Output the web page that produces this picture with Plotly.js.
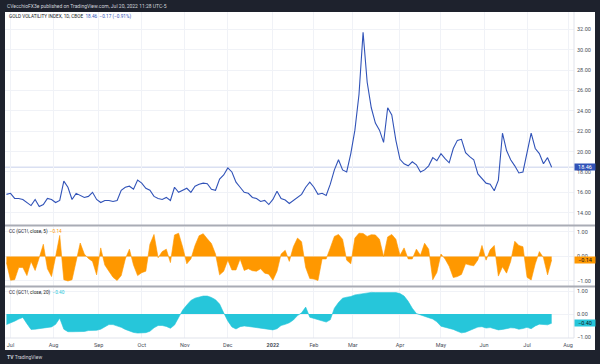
<!DOCTYPE html>
<html><head><meta charset="utf-8">
<script src="https://cdn.plot.ly/plotly-3.0.1.min.js"></script>
<style>html,body{margin:0;padding:0;background:#1e222d;}#chart{width:600px;height:364px;}</style>
</head><body><div id="chart"></div>
<script>
const dates = [
'2021-06-29','2021-07-01','2021-07-06','2021-07-08','2021-07-12','2021-07-14','2021-07-16','2021-07-20','2021-07-22','2021-07-26',
'2021-07-28','2021-07-30','2021-08-03','2021-08-05','2021-08-09','2021-08-11','2021-08-13','2021-08-17','2021-08-19','2021-08-23',
'2021-08-25','2021-08-27','2021-08-31','2021-09-02','2021-09-07','2021-09-09','2021-09-13','2021-09-15','2021-09-17','2021-09-21',
'2021-09-23','2021-09-27','2021-09-29','2021-10-01','2021-10-05','2021-10-07','2021-10-11','2021-10-13','2021-10-15','2021-10-19',
'2021-10-21','2021-10-25','2021-10-27','2021-10-29','2021-11-02','2021-11-04','2021-11-08','2021-11-10','2021-11-12','2021-11-16',
'2021-11-18','2021-11-22','2021-11-24','2021-11-29','2021-12-01','2021-12-03','2021-12-07','2021-12-09','2021-12-13','2021-12-15',
'2021-12-17','2021-12-21','2021-12-23','2021-12-28','2021-12-30','2022-01-03','2022-01-05','2022-01-07','2022-01-11','2022-01-13',
'2022-01-18','2022-01-20','2022-01-24','2022-01-26','2022-01-28','2022-02-01','2022-02-03','2022-02-07','2022-02-09','2022-02-11',
'2022-02-15','2022-02-17','2022-02-22','2022-02-24','2022-02-28','2022-03-02','2022-03-04','2022-03-08','2022-03-10','2022-03-14',
'2022-03-16','2022-03-18','2022-03-22','2022-03-24','2022-03-28','2022-03-30','2022-04-01','2022-04-05','2022-04-07','2022-04-11',
'2022-04-13','2022-04-18','2022-04-20','2022-04-22','2022-04-26','2022-04-28','2022-05-02','2022-05-04','2022-05-06','2022-05-10',
'2022-05-12','2022-05-16','2022-05-18','2022-05-20','2022-05-24','2022-05-26','2022-05-31','2022-06-02','2022-06-06','2022-06-08',
'2022-06-10','2022-06-14','2022-06-16','2022-06-21','2022-06-23','2022-06-27','2022-06-29','2022-07-01','2022-07-06','2022-07-08',
'2022-07-12','2022-07-14','2022-07-18','2022-07-20'];

const gvz = [
15.8,15.9,15.4,15.4,15.3,15.0,14.7,15.3,14.6,14.8,
15.4,15.3,15.0,15.2,17.1,16.5,15.3,15.9,15.7,15.5,
15.6,16.0,15.3,15.0,15.2,15.2,15.1,15.2,16.2,16.5,
16.6,16.3,17.2,16.9,16.4,16.2,15.6,15.4,15.3,15.5,
15.2,16.5,16.0,16.2,16.4,16.0,16.6,16.8,16.9,16.85,
16.3,16.2,17.3,17.7,18.4,18.0,17.0,16.5,16.0,15.9,
15.5,15.4,15.1,15.2,14.8,15.3,16.1,15.4,15.25,14.9,
15.2,15.5,15.8,16.5,17.0,16.5,15.8,15.9,15.7,16.8,
18.2,19.2,18.2,18.0,19.8,22.1,25.6,31.7,26.8,24.3,
22.8,22.1,20.9,24.3,23.6,21.1,19.24,18.8,18.6,19.0,
18.7,18.0,18.2,18.6,19.4,19.1,19.8,19.3,18.9,20.3,
21.1,21.2,19.9,19.5,19.2,17.8,17.3,16.9,16.8,16.15,
17.2,21.8,20.1,19.2,18.6,17.9,18.0,19.9,21.8,20.3,
19.8,18.8,19.4,18.46];

const cc5 = [
-0.25,-0.97,-0.95,-0.45,-0.45,-0.78,-0.2,-0.57,-0.05,0.5,
-0.5,-0.82,0.0,0.86,-0.95,-1.0,-0.95,-0.25,0.55,0.1,
-0.08,-0.2,-0.75,0.35,-0.35,-0.6,-0.85,-0.98,-0.78,-0.1,
0.3,-0.35,-0.78,-0.66,-0.6,0.5,0.9,-0.05,0.2,0.3,
-0.25,0.88,0.95,0.38,-0.3,-0.1,0.45,0.85,0.93,0.72,
0.53,0.1,-0.75,-0.6,-0.15,-0.55,-0.55,-0.1,-0.57,-0.5,
-0.58,-0.6,-0.5,-0.68,-0.72,-0.97,-0.6,0.1,0.25,-0.2,
0.4,0.75,0.6,-0.45,-0.9,-0.92,-0.98,-0.1,-0.1,0.35,
0.82,0.9,0.7,-0.15,-0.3,0.75,0.95,0.94,0.82,0.89,
0.88,0.7,0.0,0.8,0.9,0.7,0.05,0.35,-0.1,-0.1,
0.3,0.05,0.54,0.3,-0.95,-0.65,0.1,-0.1,-0.4,-0.86,
-0.82,-0.73,-0.3,-0.35,-0.38,-0.14,0.45,-0.15,0.27,0.45,
-0.8,-0.42,-0.68,-0.2,0.62,0.45,0.4,-0.85,-0.96,-0.3,
0.2,-0.05,-0.75,-0.14];

const cc20 = [
-0.46,-0.40,-0.31,-0.22,-0.15,-0.42,-0.67,-0.66,-0.64,-0.62,
-0.60,-0.56,-0.45,-0.18,-0.66,-0.77,-0.77,-0.77,-0.77,-0.76,
-0.72,-0.71,-0.71,-0.66,-0.55,-0.46,-0.46,-0.51,-0.58,-0.67,
-0.74,-0.80,-0.83,-0.83,-0.81,-0.75,-0.60,-0.50,-0.50,-0.54,
-0.62,-0.48,-0.17,0.17,0.39,0.59,0.69,0.75,0.78,0.78,
0.72,0.62,0.43,0.05,-0.30,-0.56,-0.65,-0.55,-0.52,-0.54,
-0.56,-0.59,-0.62,-0.64,-0.67,-0.69,-0.64,-0.50,-0.45,-0.38,
-0.26,-0.07,0.05,0.30,-0.14,-0.20,-0.24,-0.29,-0.35,-0.25,
0.25,0.50,0.69,0.73,0.76,0.83,0.86,0.91,0.93,0.94,
0.93,0.93,0.93,0.94,0.94,0.93,0.89,0.78,0.55,0.25,
0.02,-0.05,-0.10,-0.16,-0.22,-0.34,-0.53,-0.58,-0.60,-0.67,
-0.75,-0.82,-0.79,-0.73,-0.64,-0.57,-0.55,-0.61,-0.59,-0.64,
-0.69,-0.67,-0.62,-0.60,-0.61,-0.66,-0.63,-0.58,-0.64,-0.52,
-0.44,-0.44,-0.47,-0.40];

const tickDates = ['2021-07-01','2021-08-02','2021-09-01','2021-10-01','2021-11-01','2021-12-01','2022-01-03','2022-02-01','2022-03-01','2022-04-01','2022-05-02','2022-06-01','2022-07-01','2022-08-01'];
const tickLabels = ['Jul','Aug','Sep','Oct','Nov','Dec','<b>2022</b>','Feb','Mar','Apr','May','Jun','Jul','Aug'];
const holidays = ['2021-07-05','2021-09-06','2021-11-25','2021-12-24','2022-01-17','2022-02-21','2022-04-15','2022-05-30','2022-06-20','2022-07-04'];
const priceTicks = [14,16,18,20,22,24,26,28,30,32];
const ccTicks = [-1,0,1];
const gvzChange = -0.17, gvzChangePct = -0.91;
const titleMain = 'GOLD VOLATILITY INDEX, 1D, CBOE';
const titleCC5 = 'CC (GC1!, close, 5)';
const titleCC20 = 'CC (GC1!, close, 20)';
const publisher = 'CVecchioFX3e published on TradingView.com, Jul 20, 2022 11:28 UTC-5';

const BLUE = '#3153b8', ORANGE = '#ff9800', CYAN = '#26c6da';
const GRID = '#f0f2f7', TXT = '#4a4e59', FONT = 'Roboto, "Liberation Sans", Arial, sans-serif';
const L = 5, R = 574, T = 12, B = 338;
const px = v => (v - L) / (R - L);
const py = v => (B - v) / (B - T);
const fmt = v => v.toFixed(2).replace('-', '\u2212');
const NB = '\u00A0';

const lastG = gvz[gvz.length-1], last5 = cc5[cc5.length-1], last20 = cc20[cc20.length-1];

const traces = [
  {x: dates, y: gvz, type: 'scatter', mode: 'lines', line: {color: BLUE, width: 1.1}, xaxis: 'x', yaxis: 'y'},
  {x: dates, y: cc5, type: 'scatter', mode: 'lines', fill: 'tozeroy', fillcolor: ORANGE, line: {color: ORANGE, width: 0.6}, xaxis: 'x', yaxis: 'y2'},
  {x: dates, y: cc20, type: 'scatter', mode: 'lines', fill: 'tozeroy', fillcolor: CYAN, line: {color: CYAN, width: 0.6}, xaxis: 'x', yaxis: 'y3'}
];

const yCommon = {side: 'right', anchor: 'x', showgrid: true, gridcolor: GRID, gridwidth: 1, zeroline: false, ticks: '', showline: false,
  tickformat: '.2f', tickfont: {family: FONT, size: 5.5, color: TXT}, ticklabelstandoff: 2, fixedrange: true};

const layout = {
  width: 600, height: 364,
  margin: {l: L, r: 600 - R, t: T, b: 364 - B, pad: 0},
  paper_bgcolor: '#1e222d', plot_bgcolor: 'white',
  showlegend: false, hovermode: false,
  font: {family: FONT, size: 5.5, color: TXT},
  xaxis: {type: 'date', anchor: 'y3', range: ['2021-06-28 07:12', '2022-08-03 21:36'],
    rangebreaks: [{bounds: ['sat', 'mon']}, {values: holidays}],
    tickmode: 'array', tickvals: tickDates, ticktext: tickLabels,
    showgrid: true, gridcolor: GRID, zeroline: false, ticks: '', showline: false,
    tickfont: {family: FONT, size: 5.5, color: TXT}, ticklabelstandoff: 2},
  yaxis: Object.assign({}, yCommon, {domain: [py(224.5), 1], range: [12.842, 33.698], tickmode: 'array', tickvals: priceTicks}),
  yaxis2: Object.assign({}, yCommon, {domain: [py(285.5), py(226.5)], range: [-1.184, 1.224], tickmode: 'array', tickvals: ccTicks}),
  yaxis3: Object.assign({}, yCommon, {domain: [0, py(287.5)], range: [-1.043, 1.152], tickmode: 'array', tickvals: ccTicks}),
  shapes: [
    {type: 'rect', xref: 'paper', yref: 'paper', x0: px(5), x1: px(595), y0: py(350), y1: py(12), fillcolor: 'white', line: {width: 0}, layer: 'below'},
    {type: 'line', xref: 'paper', yref: 'y', x0: 0, x1: 1, y0: lastG, y1: lastG, line: {color: 'rgba(49,83,184,0.18)', width: 1.5}, layer: 'below'},
    {type: 'line', xref: 'paper', yref: 'paper', x0: 1, x1: 1, y0: 0, y1: 1, line: {color: '#e0e3eb', width: 1}},
    {type: 'line', xref: 'paper', yref: 'paper', x0: 0, x1: 1, y0: 0, y1: 0, line: {color: '#e0e3eb', width: 1}},
    {type: 'line', xref: 'paper', yref: 'paper', x0: px(5), x1: px(595), y0: py(225.5), y1: py(225.5), line: {color: '#a9acb5', width: 2}},
    {type: 'line', xref: 'paper', yref: 'paper', x0: px(5), x1: px(595), y0: py(286.5), y1: py(286.5), line: {color: '#a9acb5', width: 2}}
  ],
  annotations: [
    {xref: 'paper', yref: 'paper', x: px(5), y: py(5.5), xanchor: 'left', yanchor: 'middle', showarrow: false,
      text: publisher, font: {family: FONT, size: 5, color: '#d1d4dc'}},
    {xref: 'paper', yref: 'paper', x: px(7), y: py(16), xanchor: 'left', yanchor: 'middle', showarrow: false,
      text: titleMain + NB + NB + '<span style="color:' + BLUE + '">' + fmt(lastG) + NB + NB + fmt(gvzChange) + ' (' + fmt(gvzChangePct) + '%)</span>',
      font: {family: FONT, size: 4.7, color: '#131722'}},
    {xref: 'paper', yref: 'paper', x: px(7), y: py(231.5), xanchor: 'left', yanchor: 'middle', showarrow: false,
      text: titleCC5 + NB + NB + '<span style="color:' + ORANGE + '">' + fmt(last5) + '</span>',
      font: {family: FONT, size: 4.7, color: '#131722'}},
    {xref: 'paper', yref: 'paper', x: px(7), y: py(292.5), xanchor: 'left', yanchor: 'middle', showarrow: false,
      text: titleCC20 + NB + NB + '<span style="color:' + CYAN + '">' + fmt(last20) + '</span>',
      font: {family: FONT, size: 4.7, color: '#131722'}},
    {xref: 'paper', yref: 'y', x: 1, y: lastG, xanchor: 'left', yanchor: 'middle', showarrow: false, width: 20, height: 6, borderpad: 0,
      bgcolor: BLUE, text: fmt(lastG), font: {family: FONT, size: 5.5, color: 'white'}},
    {xref: 'paper', yref: 'y2', x: 1, y: last5, xanchor: 'left', yanchor: 'middle', showarrow: false, width: 20, height: 6, borderpad: 0,
      bgcolor: ORANGE, text: fmt(last5), font: {family: FONT, size: 5.5, color: '#131722'}},
    {xref: 'paper', yref: 'y3', x: 1, y: last20, xanchor: 'left', yanchor: 'middle', showarrow: false, width: 20, height: 6, borderpad: 0,
      bgcolor: CYAN, text: fmt(last20), font: {family: FONT, size: 5.5, color: '#131722'}},
    {xref: 'paper', yref: 'paper', x: px(5), y: py(357), xanchor: 'left', yanchor: 'middle', showarrow: false,
      text: '<b>TV</b>' + NB + 'TradingView', font: {family: FONT, size: 5, color: '#d1d4dc'}}
  ]
};

Plotly.newPlot('chart', traces, layout, {staticPlot: true, displayModeBar: false});
</script>
</body></html>
